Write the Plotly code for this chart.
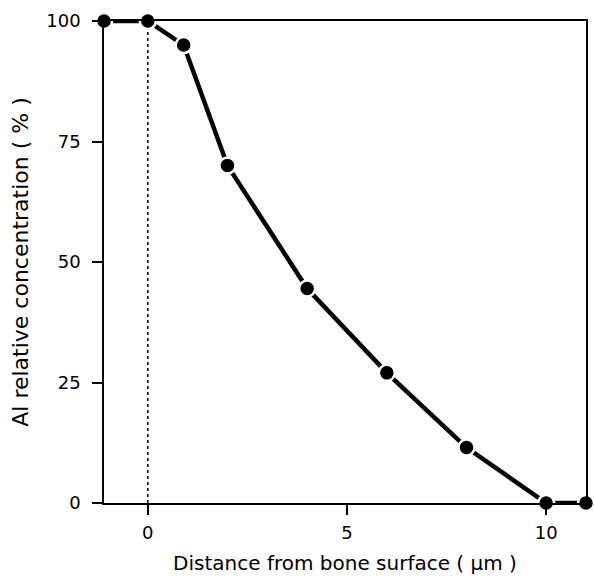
import plotly.graph_objects as go

# Distance from bone surface (µm) and relative Al concentration (%)
distance_um = [-1.1, 0, 0.9, 2, 4, 6, 8, 10, 11]
al_relative_pct = [100, 100, 95, 70, 44.5, 27, 11.5, 0, 0]

x_ticks = [0, 5, 10]
y_ticks = [0, 25, 50, 75, 100]

font_family = "DejaVu Sans, Arial, sans-serif"

fig = go.Figure()

# dotted marker for the bone surface
fig.add_trace(go.Scatter(
    x=[0, 0], y=[0, 100], mode="lines",
    line=dict(color="black", width=1.5, dash="dot"),
    hoverinfo="skip", showlegend=False,
))

fig.add_trace(go.Scatter(
    x=distance_um, y=al_relative_pct, mode="lines+markers",
    line=dict(color="black", width=4.5),
    marker=dict(size=16, color="black", line=dict(color="white", width=2.5)),
    cliponaxis=False, showlegend=False,
))

axis_common = dict(
    showgrid=False, zeroline=False,
    showline=True, linecolor="black", linewidth=1.5, mirror=True,
    ticks="outside", ticklen=10, tickwidth=1.5, tickcolor="black",
    tickfont=dict(family=font_family, size=18, color="black"),
)

fig.update_layout(
    width=594, height=578,
    margin=dict(l=104, r=6, t=21, b=75),
    paper_bgcolor="white", plot_bgcolor="white",
    xaxis=dict(
        range=[-1.1, 11.0], tickvals=x_ticks, ticklabelstandoff=3,
        **axis_common,
        title=dict(text="Distance from bone surface ( µm )",
                   font=dict(family=font_family, size=20, color="black"),
                   standoff=14),
    ),
    yaxis=dict(
        range=[0, 100], tickvals=y_ticks, ticklabelstandoff=8,
        **axis_common,
        title=dict(text="Al relative concentration ( % )",
                   font=dict(family=font_family, size=22, color="black"),
                   standoff=12),
    ),
)

fig.write_html("out.html")
